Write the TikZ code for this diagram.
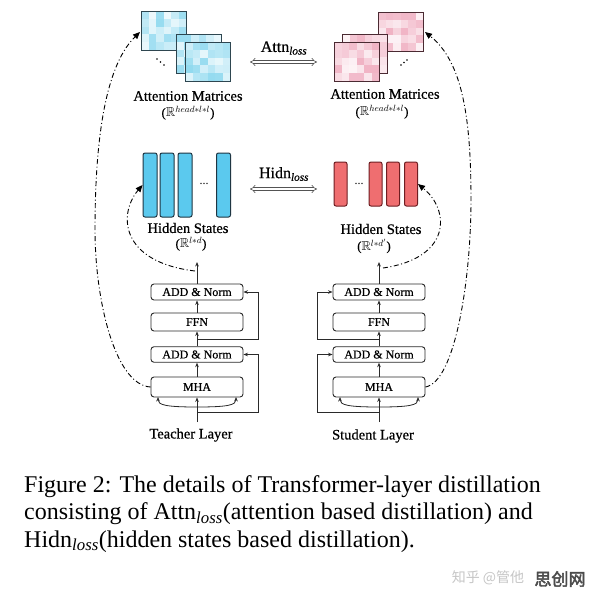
\documentclass[tikz,border=0pt]{standalone}
\usepackage{amssymb}
\usepackage{fontspec}
\setmainfont{Liberation Serif}
\newfontfamily\diagfont[FakeBold=0.5]{Liberation Serif}
\newfontfamily\cjkfont{Noto Sans CJK SC}
\newfontfamily\cjkbold[FakeBold=2.5]{Noto Sans CJK SC}
\usetikzlibrary{arrows.meta}
\definecolor{tcell}{HTML}{4FC3E6}
\definecolor{scell}{HTML}{E7829F}
\definecolor{tborder}{HTML}{2E4650}
\definecolor{sborder}{HTML}{4A2A32}
\definecolor{tbar}{HTML}{5BC9EE}
\definecolor{tbarb}{HTML}{1F3542}
\definecolor{sbar}{HTML}{EF6E70}
\definecolor{sbarb}{HTML}{6E1E22}
\definecolor{ink}{HTML}{2A2A2A}
\newcommand\attnmat[5]{%
  \begin{scope}[shift={(#1,#2)}]
    \pgfmathsetseed{#5}
    \fill[white] (0,0) rectangle (45,39);
    \foreach \i in {0,...,5}{\foreach \j in {0,...,4}{
      \pgfmathrandominteger{\rr}{10}{62}
      \fill[#3!\rr!white] (\i*7.5,\j*7.8) rectangle ++(7.5,7.8);
    }}
    \draw[#4, line width=1pt] (0,0) rectangle (45,39);
  \end{scope}}
\begin{document}
\begin{tikzpicture}[x=1pt,y=-1pt,
  box/.style={draw=ink, line width=0.9pt, rounded corners=3pt, minimum width=92pt,
    inner sep=0pt, fill=white, font=\diagfont\fontsize{12}{12}\selectfont},
  flow/.style={draw=ink, line width=0.8pt, -{Stealth[length=4.5pt,width=3.6pt]}},
  ddash/.style={draw=black, line width=0.9pt, dash pattern=on 5pt off 2.5pt on 1pt off 2.5pt,
    -{Triangle[length=7pt,width=6pt]}},
  lossarrow/.style={draw=gray!65!black, double=white, double distance=2.2pt, line width=0.6pt,
    {Implies}-{Implies}},
  lbl/.style={inner sep=0pt, font=\diagfont\fontsize{14.5}{16}\selectfont},
  rlbl/.style={inner sep=0pt, font=\diagfont\fontsize{13}{13}\selectfont},
  losslbl/.style={inner sep=0pt, font=\diagfont\fontsize{16}{18}\selectfont},
  tbarst/.style={draw=tbarb, fill=tbar, line width=1pt, rounded corners=2pt,
    minimum width=14pt, minimum height=64pt, inner sep=0pt},
  sbarst/.style={draw=sbarb, fill=sbar, line width=1pt, rounded corners=2pt,
    minimum width=13pt, minimum height=44pt, inner sep=0pt},
  capline/.style={anchor=base west, inner sep=0pt, font=\fontsize{24}{27.5}\selectfont}]
\useasboundingbox (0,0) rectangle (596,597);
\fill[white] (0,0) rectangle (596,597);

% ---------- attention matrices ----------
\attnmat{141}{11}{tcell}{tborder}{11}
\attnmat{176}{34}{tcell}{tborder}{23}
\attnmat{185}{42}{tcell}{tborder}{37}
\foreach \p in {(157,59),(160.5,62),(164,65)} \fill[black] \p circle (0.9);
\attnmat{378}{12}{scell}{sborder}{41}
\attnmat{342}{34}{scell}{sborder}{53}
\attnmat{334}{42}{scell}{sborder}{67}
\foreach \p in {(401,65),(404,62.5),(407,60)} \fill[black] \p circle (0.9);
\coordinate (tMatIn) at (140,32);
\coordinate (sMatIn) at (425,32);

\node[lbl] (tAttLbl) at (188,96) {Attention Matrices};
\node[rlbl] (tAttR) at (188,113) {($\mathbb{R}^{head*l*l}$)};
\node[lbl] (sAttLbl) at (385,94) {Attention Matrices};
\node[rlbl] (sAttR) at (382,112) {($\mathbb{R}^{head*l*l}$)};

% attention loss
\coordinate (attL) at (250,62);
\coordinate (attR) at (317,62);
\draw[lossarrow] (attL) -- (attR);
\node[losslbl] (attnLoss) at (284,48) {Attn\textsubscript{\itshape loss}};

% ---------- hidden states ----------
\node[tbarst] (tb1) at (150,185) {};
\node[tbarst] (tb2) at (167,185) {};
\node[tbarst] (tb3) at (185,185) {};
\node[tbarst] (tb4) at (223.5,185) {};
\node[inner sep=0pt, font=\fontsize{12}{12}\selectfont] (tdots) at (204,184) {...};
\node[sbarst] (sb1) at (340.5,184) {};
\node[sbarst] (sb2) at (375.5,184) {};
\node[sbarst] (sb3) at (393,184) {};
\node[sbarst] (sb4) at (411,184) {};
\node[inner sep=0pt, font=\fontsize{12}{12}\selectfont] (sdots) at (359,184) {...};

\node[lbl] (tHidLbl) at (188,228) {Hidden States};
\node[rlbl] (tHidR) at (191,244) {($\mathbb{R}^{l*d}$)};
\node[lbl] (sHidLbl) at (381,229) {Hidden States};
\node[rlbl] (sHidR) at (374,246) {($\mathbb{R}^{l*d'}$)};

\coordinate (hidL) at (250,189);
\coordinate (hidR) at (317,189);
\draw[lossarrow] (hidL) -- (hidR);
\node[losslbl] (hidnLoss) at (284,174) {Hidn\textsubscript{\itshape loss}};

% ---------- teacher layer ----------
\node[box, minimum height=16pt] (tAN2) at (197,292) {ADD \& Norm};
\node[box, minimum height=18pt] (tFFN) at (197,322) {FFN};
\node[box, minimum height=15.5pt] (tAN1) at (197,354.5) {ADD \& Norm};
\node[box, minimum height=20pt] (tMHA) at (197,387) {MHA};
\coordinate (tIn) at (197,422);
\coordinate (tOut) at (197,262);
\coordinate (tR1) at (197,412);
\coordinate (tR1c) at (258,412);
\coordinate (tR2) at (197,339);
\coordinate (tR2c) at (258,339);
\coordinate (tSplit) at (197,407);
\coordinate (tMl) at (158,397);
\coordinate (tMr) at (236,397);
\draw[flow] (tIn) -- (tMHA.south);
\draw[flow] (tMHA) -- (tAN1);
\draw[flow] (tAN1) -- (tFFN);
\draw[flow] (tFFN) -- (tAN2);
\draw[flow] (tAN2) -- (tOut);
\draw[flow] (tR1) -- (tR1c) |- (tAN1.east);
\draw[flow] (tR2) -- (tR2c) |- (tAN2.east);
\draw[flow] (tSplit) .. controls (166,407) and (158,405) .. (tMl);
\draw[flow] (tSplit) .. controls (228,407) and (236,405) .. (tMr);
\node[lbl] (tLayer) at (191,435) {Teacher Layer};

% ---------- student layer ----------
\node[box, minimum height=16pt] (sAN2) at (379,292) {ADD \& Norm};
\node[box, minimum height=18pt] (sFFN) at (379,322) {FFN};
\node[box, minimum height=15.5pt] (sAN1) at (379,354.5) {ADD \& Norm};
\node[box, minimum height=20pt] (sMHA) at (379,387) {MHA};
\coordinate (sIn) at (379,422);
\coordinate (sOut) at (379,262);
\coordinate (sR1) at (379,412);
\coordinate (sR1c) at (317,412);
\coordinate (sR2) at (379,339);
\coordinate (sR2c) at (317,339);
\coordinate (sSplit) at (379,407);
\coordinate (sMl) at (340,397);
\coordinate (sMr) at (418,397);
\draw[flow] (sIn) -- (sMHA.south);
\draw[flow] (sMHA) -- (sAN1);
\draw[flow] (sAN1) -- (sFFN);
\draw[flow] (sFFN) -- (sAN2);
\draw[flow] (sAN2) -- (sOut);
\draw[flow] (sR1) -- (sR1c) |- (sAN1.west);
\draw[flow] (sR2) -- (sR2c) |- (sAN2.west);
\draw[flow] (sSplit) .. controls (348,407) and (340,405) .. (sMl);
\draw[flow] (sSplit) .. controls (410,407) and (418,405) .. (sMr);
\node[lbl] (sLayer) at (373,436) {Student Layer};

% ---------- dash-dot connectors ----------
\coordinate (tHidStart) at (195,271);
\coordinate (sHidStart) at (383,268);
\draw[ddash] (tHidStart) .. controls (120,262) and (118,214) .. (tb1.west);
\draw[ddash] (sHidStart) .. controls (452,258) and (450,210) .. (sb4.east);
\draw[ddash] (tMHA.west) .. controls (115,385) and (95,300) .. (95,230)
   .. controls (95,150) and (103,68) .. (tMatIn);
\draw[ddash] (sMHA.east) .. controls (455,382) and (471,280) .. (471,200)
   .. controls (471,120) and (463,62) .. (sMatIn);

% ---------- caption ----------
\node[capline] (cap1) at (24,492) {Figure 2: The details of Transformer-layer distillation};
\node[capline] (cap2) at (24,519.5) {consisting of Attn\textsubscript{\itshape loss}(attention based distillation) and};
\node[capline] (cap3) at (24,547) {Hidn\textsubscript{\itshape loss}(hidden states based distillation).};

% ---------- watermark ----------
\node[inner sep=0pt, text=gray!45, font=\cjkfont\fontsize{14}{14}\selectfont] (wm1) at (488,578) {知乎 @管他};
\node[inner sep=0pt, text=black!70, font=\cjkbold\fontsize{17}{17}\selectfont] (wm2) at (560,579) {思创网};
\end{tikzpicture}
\end{document}
